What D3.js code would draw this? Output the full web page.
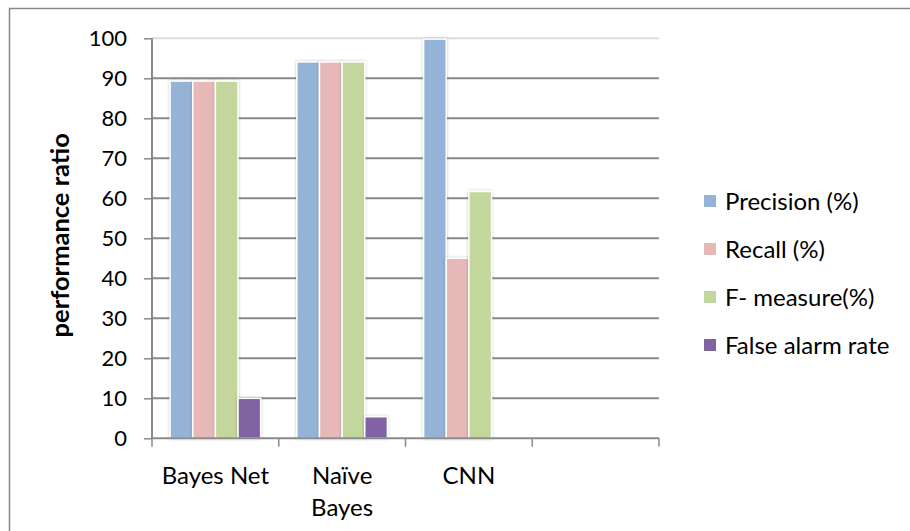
<!DOCTYPE html>
<html>
<head>
<meta charset="utf-8">
<script src="https://cdn.jsdelivr.net/npm/d3@7/dist/d3.min.js"></script>
<style>
  html, body { margin: 0; padding: 0; background: #fff; }
  svg { display: block; }
  text { font-family: Lato, "Open Sans", sans-serif; fill: #000; }
</style>
</head>
<body>
<svg id="chart" width="910" height="531"></svg>
<script>
// Classifier performance comparison
const categories = ["Bayes Net", "Naïve Bayes", "CNN", ""];
const seriesNames = ["Precision (%)", "Recall (%)", "F- measure(%)", "False alarm rate"];
const precision = [89.3, 94.1, 99.8, null];
const recall = [89.3, 94.1, 45, null];
const fMeasure = [89.3, 94.1, 61.7, null];
const falseAlarm = [10, 5.4, 0, null];
const yTicks = [0, 10, 20, 30, 40, 50, 60, 70, 80, 90, 100];
const colors = ["#95B3D7", "#E6B9B8", "#C3D69B", "#8064A2"];

const seriesValues = [precision, recall, fMeasure, falseAlarm];

const svg = d3.select("#chart");
const W = 910, H = 531;
const plot = { left: 152, top: 38.3, width: 507, height: 400 };

// outer chart frame
svg.append("rect")
  .attr("x", 9.5).attr("y", 8.5)
  .attr("width", W + 20).attr("height", H + 20)
  .attr("fill", "#fff").attr("stroke", "#888").attr("stroke-width", 1.5);

// soft shadow under bars
const defs = svg.append("defs");
const f = defs.append("filter").attr("id", "barShadow")
  .attr("x", "-30%").attr("y", "-10%").attr("width", "160%").attr("height", "120%");
f.append("feGaussianBlur").attr("in", "SourceAlpha").attr("stdDeviation", 1.6).attr("result", "b");
f.append("feOffset").attr("in", "b").attr("dx", 0).attr("dy", 0).attr("result", "o");
f.append("feComponentTransfer").attr("in", "o").attr("result", "s")
  .append("feFuncA").attr("type", "linear").attr("slope", 0.25);
const fm = f.append("feMerge");
fm.append("feMergeNode").attr("in", "s");
fm.append("feMergeNode").attr("in", "SourceGraphic");

const g = svg.append("g").attr("transform", `translate(${plot.left},${plot.top})`);

const x0 = d3.scaleBand().domain(categories.map((c, i) => i)).range([0, plot.width]).padding(0);
const x1 = d3.scaleBand().domain(seriesNames).range([0, x0.bandwidth()]).paddingInner(0).paddingOuter(0.8);
const y = d3.scaleLinear().domain([0, 100]).range([plot.height, 0]);

// horizontal gridlines
g.append("g").selectAll("line")
  .data(yTicks.filter(t => t > 0))
  .join("line")
  .attr("x1", 0).attr("x2", plot.width)
  .attr("y1", d => y(d)).attr("y2", d => y(d))
  .attr("stroke", d => d === 100 ? "#dcdcdc" : "#8a8a8a")
  .attr("stroke-width", 2);

// bars
const data = [];
categories.forEach((c, ci) => {
  seriesNames.forEach((s, si) => {
    const v = seriesValues[si][ci];
    if (v !== null && v > 0) data.push({ ci, s, si, v });
  });
});
g.append("g").selectAll("rect")
  .data(data)
  .join("rect")
  .attr("x", d => x0(d.ci) + x1(d.s))
  .attr("y", d => y(d.v))
  .attr("width", x1.bandwidth())
  .attr("height", d => y(0) - y(d.v))
  .attr("fill", d => colors[d.si])
  .attr("stroke", "#fff")
  .attr("stroke-width", 1.5)
  .attr("filter", "url(#barShadow)");

// y axis
const yAxis = g.append("g")
  .call(d3.axisLeft(y).tickValues(yTicks).tickSize(8).tickPadding(17).tickFormat(d3.format("d")));
yAxis.select(".domain").attr("stroke", "#8a8a8a").attr("stroke-width", 2).attr("d", `M0,${y(100)}V${y(0)}`);
yAxis.selectAll(".tick line").attr("stroke", "#8a8a8a").attr("stroke-width", 1.5);
yAxis.selectAll(".tick text").style("font-size", "22px").attr("fill", "#000");

// x axis baseline with category separators
const xAxis = g.append("g").attr("transform", `translate(0,${plot.height})`);
xAxis.append("line").attr("x1", 0).attr("x2", plot.width).attr("y1", 0).attr("y2", 0)
  .attr("stroke", "#8a8a8a").attr("stroke-width", 2);
const bounds = categories.map((c, i) => x0(i)).concat([plot.width]);
xAxis.selectAll("line.sep").data(bounds).join("line").attr("class", "sep")
  .attr("x1", d => d).attr("x2", d => d).attr("y1", 0).attr("y2", 8.5)
  .attr("stroke", "#8a8a8a").attr("stroke-width", 1.5);

// category labels, wrapped to the slot width
function wrapWords(text, maxW, fontSize) {
  const tmp = svg.append("text").style("font-size", fontSize + "px");
  const words = text.split(" ");
  const lines = [];
  let cur = "";
  words.forEach(w => {
    const test = cur ? cur + " " + w : w;
    tmp.text(test);
    if (tmp.node().getComputedTextLength() > maxW && cur) { lines.push(cur); cur = w; }
    else cur = test;
  });
  if (cur) lines.push(cur);
  tmp.remove();
  return lines;
}
categories.forEach((c, i) => {
  if (!c) return;
  const lines = wrapWords(c, 112, 24);
  const t = xAxis.append("text")
    .attr("text-anchor", "middle")
    .attr("x", x0(i) + x0.bandwidth() / 2)
    .attr("y", 46)
    .style("font-size", "24px");
  lines.forEach((ln, k) => {
    t.append("tspan").attr("x", x0(i) + x0.bandwidth() / 2).attr("dy", k === 0 ? 0 : 32).text(ln);
  });
});

// y axis title
svg.append("text")
  .attr("transform", `translate(69,${plot.top + plot.height / 2 - 3}) rotate(-90)`)
  .attr("text-anchor", "middle")
  .style("font-size", "25.5px")
  .style("font-weight", "bold")
  .text("performance ratio");

// legend
const legend = svg.append("g").attr("transform", "translate(704,201)");
seriesNames.forEach((s, i) => {
  const row = legend.append("g").attr("transform", `translate(0,${i * 48})`);
  row.append("rect").attr("x", 0).attr("y", -6).attr("width", 12).attr("height", 12).attr("fill", colors[i]);
  row.append("text").attr("x", 21).attr("y", 0).attr("dy", "0.36em").style("font-size", "24px").text(s);
});
</script>
</body>
</html>
